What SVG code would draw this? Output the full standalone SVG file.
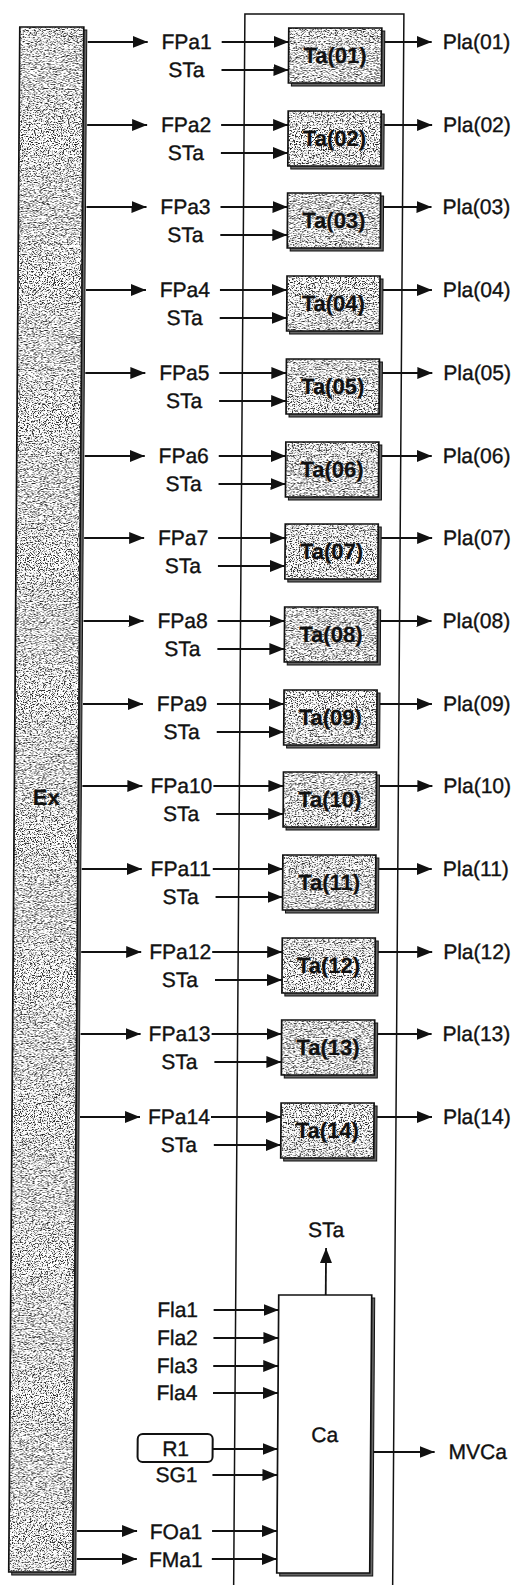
<svg xmlns="http://www.w3.org/2000/svg" width="529" height="1585" viewBox="0 0 529 1585">
<style>
text{font-family:"Liberation Sans",Arial,sans-serif;fill:#111;stroke:#111;stroke-width:0.35}
.lb{font-size:21px;text-anchor:middle}
.pl{font-size:21px}
.tb{font-size:22px;font-weight:bold;text-anchor:middle;stroke-width:0.2}
.box{fill:none;stroke:#111;stroke-width:1.7}
.bg{fill:#fff}
.tex{fill:#000}
.sh{fill:#666;stroke:#111;stroke-width:1}
.ar{fill:none;stroke:#111;stroke-width:1.8;marker-end:url(#ah)}
.fr{fill:none;stroke:#111;stroke-width:1.5}
</style>
<defs>
<marker id="ah" markerUnits="userSpaceOnUse" markerWidth="17" markerHeight="13" refX="15" refY="6" orient="auto">
<path d="M0,0 L15,6 L0,12 Z" fill="#111"/>
</marker>
<filter id="grain" x="0" y="0" width="1" height="1" color-interpolation-filters="sRGB">
<feTurbulence type="fractalNoise" baseFrequency="0.85" numOctaves="2" seed="5" result="n"/>
<feColorMatrix in="n" type="matrix" values="0 0 0 0 0.15  0 0 0 0 0.15  0 0 0 0 0.15  1 0 0 0 0" result="a"/>
<feComponentTransfer in="a" result="t"><feFuncA type="linear" slope="6" intercept="-3.02"/></feComponentTransfer>
<feComposite in="t" in2="SourceGraphic" operator="in"/>
</filter>
</defs>
<rect width="529" height="1585" fill="#fff"/>
<g transform="skewX(-0.41)">
<g id="frame"><path class="fr" d="M245,1585 V14 H404 V1585"/></g>
<g id="Ex">
<rect class="sh" x="23" y="30" width="64" height="1545"/>
<rect class="bg" x="20" y="27" width="64" height="1545"/>
<rect class="tex" x="20" y="27" width="64" height="1545" filter="url(#grain)"/>
<rect class="box" x="20" y="27" width="64" height="1545"/>
<text class="tb" x="52" y="805" font-size="18">Ex</text>
</g>
<g id="Ta01"><rect class="sh" x="292" y="31" width="93" height="55"/><rect class="bg" x="289" y="28" width="93" height="55"/><rect class="tex" x="289" y="28" width="93" height="55" filter="url(#grain)"/><rect class="box" x="289" y="28" width="93" height="55"/><text class="tb" x="335.5" y="63">Ta(01)</text></g>
<g id="Ta02"><rect class="sh" x="292" y="114" width="93" height="55"/><rect class="bg" x="289" y="111" width="93" height="55"/><rect class="tex" x="289" y="111" width="93" height="55" filter="url(#grain)"/><rect class="box" x="289" y="111" width="93" height="55"/><text class="tb" x="335.5" y="146">Ta(02)</text></g>
<g id="Ta03"><rect class="sh" x="292" y="196" width="93" height="55"/><rect class="bg" x="289" y="193" width="93" height="55"/><rect class="tex" x="289" y="193" width="93" height="55" filter="url(#grain)"/><rect class="box" x="289" y="193" width="93" height="55"/><text class="tb" x="335.5" y="228">Ta(03)</text></g>
<g id="Ta04"><rect class="sh" x="292" y="279" width="93" height="55"/><rect class="bg" x="289" y="276" width="93" height="55"/><rect class="tex" x="289" y="276" width="93" height="55" filter="url(#grain)"/><rect class="box" x="289" y="276" width="93" height="55"/><text class="tb" x="335.5" y="311">Ta(04)</text></g>
<g id="Ta05"><rect class="sh" x="292" y="362" width="93" height="55"/><rect class="bg" x="289" y="359" width="93" height="55"/><rect class="tex" x="289" y="359" width="93" height="55" filter="url(#grain)"/><rect class="box" x="289" y="359" width="93" height="55"/><text class="tb" x="335.5" y="394">Ta(05)</text></g>
<g id="Ta06"><rect class="sh" x="292" y="445" width="93" height="55"/><rect class="bg" x="289" y="442" width="93" height="55"/><rect class="tex" x="289" y="442" width="93" height="55" filter="url(#grain)"/><rect class="box" x="289" y="442" width="93" height="55"/><text class="tb" x="335.5" y="477">Ta(06)</text></g>
<g id="Ta07"><rect class="sh" x="292" y="527" width="93" height="55"/><rect class="bg" x="289" y="524" width="93" height="55"/><rect class="tex" x="289" y="524" width="93" height="55" filter="url(#grain)"/><rect class="box" x="289" y="524" width="93" height="55"/><text class="tb" x="335.5" y="559">Ta(07)</text></g>
<g id="Ta08"><rect class="sh" x="292" y="610" width="93" height="55"/><rect class="bg" x="289" y="607" width="93" height="55"/><rect class="tex" x="289" y="607" width="93" height="55" filter="url(#grain)"/><rect class="box" x="289" y="607" width="93" height="55"/><text class="tb" x="335.5" y="642">Ta(08)</text></g>
<g id="Ta09"><rect class="sh" x="292" y="693" width="93" height="55"/><rect class="bg" x="289" y="690" width="93" height="55"/><rect class="tex" x="289" y="690" width="93" height="55" filter="url(#grain)"/><rect class="box" x="289" y="690" width="93" height="55"/><text class="tb" x="335.5" y="725">Ta(09)</text></g>
<g id="Ta10"><rect class="sh" x="292" y="775" width="93" height="55"/><rect class="bg" x="289" y="772" width="93" height="55"/><rect class="tex" x="289" y="772" width="93" height="55" filter="url(#grain)"/><rect class="box" x="289" y="772" width="93" height="55"/><text class="tb" x="335.5" y="807">Ta(10)</text></g>
<g id="Ta11"><rect class="sh" x="292" y="858" width="93" height="55"/><rect class="bg" x="289" y="855" width="93" height="55"/><rect class="tex" x="289" y="855" width="93" height="55" filter="url(#grain)"/><rect class="box" x="289" y="855" width="93" height="55"/><text class="tb" x="335.5" y="890">Ta(11)</text></g>
<g id="Ta12"><rect class="sh" x="292" y="941" width="93" height="55"/><rect class="bg" x="289" y="938" width="93" height="55"/><rect class="tex" x="289" y="938" width="93" height="55" filter="url(#grain)"/><rect class="box" x="289" y="938" width="93" height="55"/><text class="tb" x="335.5" y="973">Ta(12)</text></g>
<g id="Ta13"><rect class="sh" x="292" y="1023" width="93" height="55"/><rect class="bg" x="289" y="1020" width="93" height="55"/><rect class="tex" x="289" y="1020" width="93" height="55" filter="url(#grain)"/><rect class="box" x="289" y="1020" width="93" height="55"/><text class="tb" x="335.5" y="1055">Ta(13)</text></g>
<g id="Ta14"><rect class="sh" x="292" y="1106" width="93" height="55"/><rect class="bg" x="289" y="1103" width="93" height="55"/><rect class="tex" x="289" y="1103" width="93" height="55" filter="url(#grain)"/><rect class="box" x="289" y="1103" width="93" height="55"/><text class="tb" x="335.5" y="1138">Ta(14)</text></g>
<g id="Ca">
<rect class="sh" x="291" y="1298" width="93" height="278"/>
<rect class="bg" x="288" y="1295" width="93" height="278"/>
<rect class="box" x="288" y="1295" width="93" height="278"/>
<text x="335" y="1442" font-size="21" text-anchor="middle" stroke-width="0.6">Ca</text>
</g>
<g id="R1">
<rect x="148" y="1434" width="75" height="28" rx="5" fill="#fff" stroke="#111" stroke-width="2"/>
<text class="lb" x="186" y="1456">R1</text>
</g>
<g id="labels">
<text class="lb" x="187" y="49">FPa1</text><text class="lb" x="187" y="77">STa</text>
<text class="lb" x="187" y="132">FPa2</text><text class="lb" x="187" y="160">STa</text>
<text class="lb" x="187" y="214">FPa3</text><text class="lb" x="187" y="242">STa</text>
<text class="lb" x="187" y="297">FPa4</text><text class="lb" x="187" y="325">STa</text>
<text class="lb" x="187" y="380">FPa5</text><text class="lb" x="187" y="408">STa</text>
<text class="lb" x="187" y="463">FPa6</text><text class="lb" x="187" y="491">STa</text>
<text class="lb" x="187" y="545">FPa7</text><text class="lb" x="187" y="573">STa</text>
<text class="lb" x="187" y="628">FPa8</text><text class="lb" x="187" y="656">STa</text>
<text class="lb" x="187" y="711">FPa9</text><text class="lb" x="187" y="739">STa</text>
<text class="lb" x="187" y="793">FPa10</text><text class="lb" x="187" y="821">STa</text>
<text class="lb" x="187" y="876">FPa11</text><text class="lb" x="187" y="904">STa</text>
<text class="lb" x="187" y="959">FPa12</text><text class="lb" x="187" y="987">STa</text>
<text class="lb" x="187" y="1041">FPa13</text><text class="lb" x="187" y="1069">STa</text>
<text class="lb" x="187" y="1124">FPa14</text><text class="lb" x="187" y="1152">STa</text>
<text class="pl" x="443" y="49">Pla(01)</text>
<text class="pl" x="444" y="132">Pla(02)</text>
<text class="pl" x="444" y="214">Pla(03)</text>
<text class="pl" x="445" y="297">Pla(04)</text>
<text class="pl" x="446" y="380">Pla(05)</text>
<text class="pl" x="446" y="463">Pla(06)</text>
<text class="pl" x="447" y="545">Pla(07)</text>
<text class="pl" x="447" y="628">Pla(08)</text>
<text class="pl" x="448" y="711">Pla(09)</text>
<text class="pl" x="449" y="793">Pla(10)</text>
<text class="pl" x="449" y="876">Pla(11)</text>
<text class="pl" x="450" y="959">Pla(12)</text>
<text class="pl" x="450" y="1041">Pla(13)</text>
<text class="pl" x="451" y="1124">Pla(14)</text>
<text class="lb" x="335" y="1237">STa</text>
<text class="lb" x="187" y="1317">Fla1</text>
<text class="lb" x="187" y="1345">Fla2</text>
<text class="lb" x="187" y="1373">Fla3</text>
<text class="lb" x="187" y="1400">Fla4</text>
<text class="lb" x="187" y="1482">SG1</text>
<text class="lb" x="187" y="1539">FOa1</text>
<text class="lb" x="187" y="1567">FMa1</text>
<text class="pl" x="459" y="1459">MVCa</text>
</g>
<g id="connectors">
<path class="ar" d="M88,42 H148"/><path class="ar" d="M222,42 H289"/><path class="ar" d="M222,70 H289"/><path class="ar" d="M385,42 H432"/>
<path class="ar" d="M88,125 H148"/><path class="ar" d="M222,125 H289"/><path class="ar" d="M222,153 H289"/><path class="ar" d="M385,125 H433"/>
<path class="ar" d="M88,207 H148"/><path class="ar" d="M222,207 H289"/><path class="ar" d="M222,235 H289"/><path class="ar" d="M385,207 H433"/>
<path class="ar" d="M88,290 H148"/><path class="ar" d="M222,290 H289"/><path class="ar" d="M222,318 H289"/><path class="ar" d="M385,290 H434"/>
<path class="ar" d="M88,373 H148"/><path class="ar" d="M222,373 H289"/><path class="ar" d="M222,401 H289"/><path class="ar" d="M385,373 H435"/>
<path class="ar" d="M88,456 H148"/><path class="ar" d="M222,456 H289"/><path class="ar" d="M222,484 H289"/><path class="ar" d="M385,456 H435"/>
<path class="ar" d="M88,538 H148"/><path class="ar" d="M222,538 H289"/><path class="ar" d="M222,566 H289"/><path class="ar" d="M385,538 H436"/>
<path class="ar" d="M88,621 H148"/><path class="ar" d="M222,621 H289"/><path class="ar" d="M222,649 H289"/><path class="ar" d="M385,621 H436"/>
<path class="ar" d="M88,704 H148"/><path class="ar" d="M222,704 H289"/><path class="ar" d="M222,732 H289"/><path class="ar" d="M385,704 H437"/>
<path class="ar" d="M88,786 H148"/><path class="ar" d="M219,786 H289"/><path class="ar" d="M222,814 H289"/><path class="ar" d="M385,786 H438"/>
<path class="ar" d="M88,869 H148"/><path class="ar" d="M219,869 H289"/><path class="ar" d="M222,897 H289"/><path class="ar" d="M385,869 H438"/>
<path class="ar" d="M88,952 H148"/><path class="ar" d="M219,952 H289"/><path class="ar" d="M222,980 H289"/><path class="ar" d="M385,952 H439"/>
<path class="ar" d="M88,1034 H148"/><path class="ar" d="M219,1034 H289"/><path class="ar" d="M222,1062 H289"/><path class="ar" d="M385,1034 H439"/>
<path class="ar" d="M88,1117 H148"/><path class="ar" d="M219,1117 H289"/><path class="ar" d="M222,1145 H289"/><path class="ar" d="M385,1117 H440"/>
<path class="ar" d="M335,1295 V1248"/>
<path class="ar" d="M223,1310 H288"/>
<path class="ar" d="M223,1338 H288"/>
<path class="ar" d="M223,1366 H288"/>
<path class="ar" d="M223,1393 H288"/>
<path class="ar" d="M223,1449 H288"/>
<path class="ar" d="M223,1475 H288"/>
<path class="ar" d="M88,1531 H148"/><path class="ar" d="M223,1531 H288"/>
<path class="ar" d="M88,1559 H148"/><path class="ar" d="M223,1559 H288"/>
<path class="ar" d="M384,1452 H445"/>
</g>
</g>
</svg>
